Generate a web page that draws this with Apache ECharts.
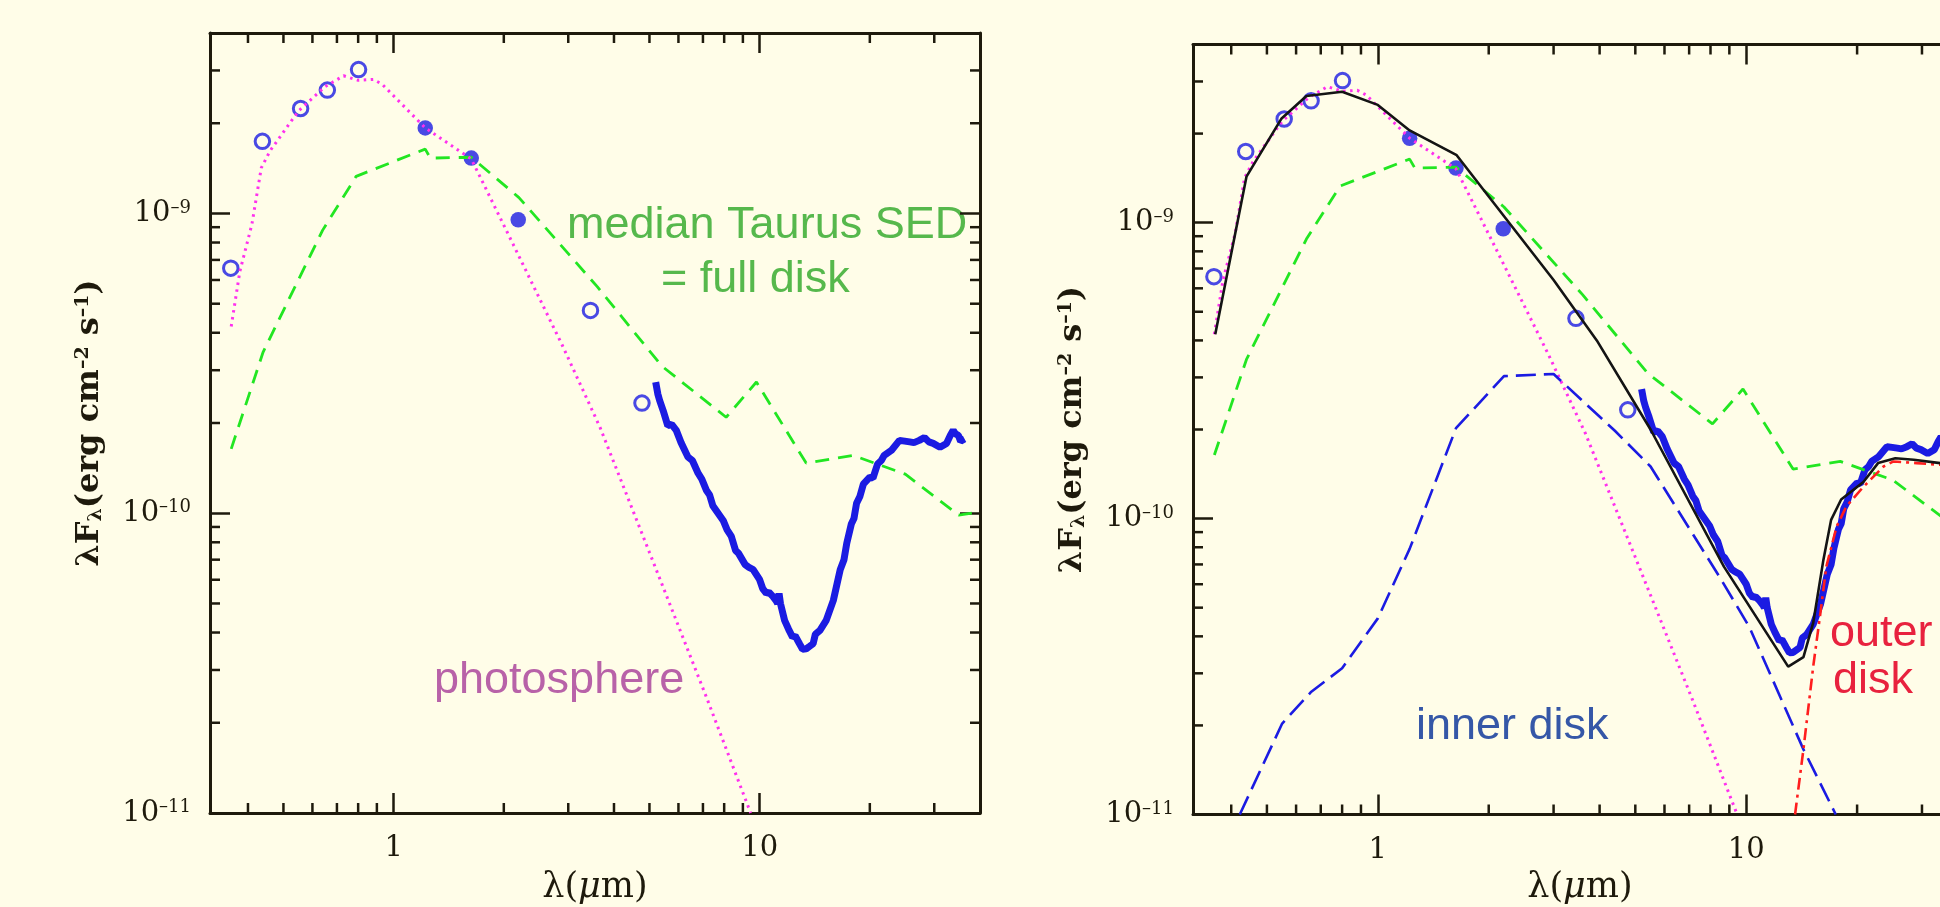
<!DOCTYPE html>
<html>
<head>
<meta charset="utf-8">
<title>SED</title>
<script src="https://cdn.jsdelivr.net/npm/echarts@6/dist/echarts.min.js"></script>
<style>
  html, body { margin: 0; padding: 0; overflow: hidden; background: #fffde8; }
  /* a little larger than the window: the right panel and the bottom margin run off the edge */
  #sed-chart { width: 1970px; height: 950px; }
</style>
</head>
<body>
<div id="sed-chart"></div>
<script>
// wavelength (um), lambda*F_lambda (erg cm^-2 s^-1)
const obsOpen = [[0.359, 6.57e-10], [0.438, 1.74e-9], [0.557, 2.24e-9], [0.659, 2.58e-9], [0.802, 3.02e-9], [3.45, 4.75e-10], [4.77, 2.33e-10]];
const obsFilled = [[1.22, 1.93e-9], [1.63, 1.53e-9], [2.19, 9.53e-10]];

const photosphere = [
  [0.36, 4.2e-10], [0.38, 6.4e-10], [0.41, 9.2e-10], [0.435, 1.42e-9], [0.46, 1.62e-9], [0.55, 2.2e-9],
  [0.65, 2.65e-9], [0.73, 2.88e-9], [0.8, 2.78e-9], [0.88, 2.8e-9], [0.93, 2.7e-9], [1.22, 1.93e-9],
  [1.63, 1.52e-9], [1.87, 1.08e-9], [2.12, 7.9e-10], [2.9, 3.6e-10], [3.66, 1.94e-10], [5.0, 7.4e-11],
  [7.15, 2.44e-11], [9.45, 1.0e-11]
];

const medianTaurus = [
  [0.36, 1.64e-10], [0.44, 3.45e-10], [0.64, 8.8e-10], [0.79, 1.33e-9], [1.22, 1.64e-9], [1.26, 1.53e-9],
  [1.63, 1.54e-9], [2.2, 1.13e-9], [3.6, 5.7e-10], [5.4, 3.1e-10], [8.1, 2.09e-10], [9.8, 2.74e-10],
  [13.4, 1.47e-10], [18, 1.56e-10], [25, 1.35e-10], [35, 9.85e-11], [38, 1.0e-10]
];

const irsSpectrum = [
  [5.2, 2.74e-10], [5.27, 2.5e-10], [5.33, 2.38e-10], [5.45, 2.2e-10], [5.61, 1.96e-10], [5.75, 1.98e-10],
  [5.92, 1.89e-10], [6.1, 1.72e-10], [6.37, 1.54e-10], [6.55, 1.5e-10], [6.79, 1.36e-10], [6.95, 1.3e-10],
  [7.16, 1.19e-10], [7.3, 1.15e-10], [7.45, 1.06e-10], [7.54, 1.07e-10], [7.95, 9.46e-11], [8.15, 8.8e-11],
  [8.37, 8.37e-11], [8.6, 7.5e-11], [8.75, 7.36e-11], [9.13, 6.74e-11], [9.35, 6.6e-11], [9.6, 6.49e-11],
  [10.0, 6.0e-11], [10.2, 5.6e-11], [10.43, 5.41e-11], [10.6, 5.45e-11], [10.88, 5.27e-11], [11.1, 5.1e-11],
  [11.2, 5.0e-11], [11.3, 5.4e-11], [11.4, 5.0e-11], [11.7, 4.39e-11], [12.0, 4.1e-11], [12.3, 3.86e-11],
  [12.5, 3.9e-11], [12.85, 3.67e-11], [13.1, 3.52e-11], [13.4, 3.53e-11], [13.7, 3.6e-11], [14.0, 3.67e-11],
  [14.2, 3.95e-11], [14.6, 4.06e-11], [15.2, 4.39e-11], [15.9, 5.12e-11], [16.6, 6.48e-11], [17.0, 7.0e-11],
  [17.3, 7.94e-11], [17.8, 9.2e-11], [18.1, 9.6e-11], [18.4, 1.08e-10], [18.8, 1.14e-10], [19.2, 1.25e-10],
  [20.0, 1.32e-10], [20.4, 1.31e-10], [21.0, 1.46e-10], [21.5, 1.5e-10], [21.9, 1.56e-10], [22.9, 1.62e-10],
  [24.1, 1.75e-10], [24.9, 1.74e-10], [25.7, 1.73e-10], [26.4, 1.72e-10], [27.3, 1.75e-10], [28.2, 1.79e-10],
  [29.0, 1.73e-10], [29.8, 1.71e-10], [31.1, 1.66e-10], [32.4, 1.71e-10], [33.2, 1.82e-10], [33.8, 1.89e-10],
  [34.3, 1.84e-10], [34.9, 1.82e-10], [35.4, 1.74e-10], [36.3, 1.77e-10]
];

// model components (right panel only)
const modelTotal = [
  [0.362, 4.2e-10], [0.44, 1.43e-9], [0.548, 2.25e-9], [0.64, 2.68e-9], [0.8, 2.77e-9], [1.0, 2.5e-9],
  [1.22, 2.05e-9], [1.637, 1.69e-9], [3.0, 6.4e-10], [3.93, 4.0e-10], [5.5, 2.0e-10], [8.7, 6.88e-11],
  [13.0, 3.16e-11], [14.3, 3.4e-11], [15.2, 4.44e-11], [16.2, 7.25e-11], [17.0, 9.9e-11], [18.1, 1.16e-10],
  [20.8, 1.33e-10], [22.8, 1.54e-10], [25.4, 1.6e-10], [28.5, 1.58e-10], [33.6, 1.54e-10], [40, 1.53e-10]
];
const innerDisk = [
  [0.422, 1.0e-11], [0.55, 2.03e-11], [0.66, 2.6e-11], [0.8, 3.12e-11], [1.0, 4.6e-11], [1.22, 7.9e-11],
  [1.63, 2.02e-10], [2.2, 3.03e-10], [3.0, 3.08e-10], [4.4, 1.98e-10], [5.5, 1.5e-10], [8.5, 6.3e-11],
  [10.2, 4.3e-11], [14.3, 1.66e-11], [17.5, 1.0e-11]
];
const outerDisk = [
  [13.57, 1.0e-11], [14.3, 1.66e-11], [15.2, 3.16e-11], [15.9, 4.79e-11], [16.5, 6.89e-11], [17.6, 9.4e-11],
  [18.7, 1.1e-10], [20.8, 1.28e-10], [23.6, 1.5e-10], [25.1, 1.56e-10], [29.0, 1.54e-10], [33.6, 1.52e-10],
  [40, 1.5e-10]
];

// axis ranges and minor tick values
const xRange = [0.315, 40];
const yRange = [1e-11, 4e-9];
const xMinorTicks = [0.4, 0.5, 0.6, 0.7, 0.8, 0.9, 2, 3, 4, 5, 6, 7, 8, 9, 20, 30];
const yMinorTicks = [
  2e-11, 3e-11, 4e-11, 5e-11, 6e-11, 7e-11, 8e-11, 9e-11,
  2e-10, 3e-10, 4e-10, 5e-10, 6e-10, 7e-10, 8e-10, 9e-10,
  2e-9, 3e-9
];

const axisColor = '#1e1a0c';
const serifName = 'DejaVu Serif';
const serif = '"DejaVu Serif", "Liberation Serif", serif';
const sans = '"Liberation Sans", Arial, sans-serif';
const blue = '#1b1be2';

const chart = echarts.init(document.getElementById('sed-chart'));

function isDecade(v) {
  const e = Math.log10(v);
  return Math.abs(e - Math.round(e)) < 1e-6;
}

function xAxisFor(gridIndex, position, withLabels) {
  return {
    type: 'log',
    logBase: 10,
    gridIndex: gridIndex,
    position: position,
    min: xRange[0],
    max: xRange[1],
    axisLine: { show: true, onZero: false, lineStyle: { color: axisColor, width: 3 } },
    axisTick: { show: true, inside: true, length: 20, lineStyle: { color: axisColor, width: 2.5 } },
    minorTick: { show: false },
    splitLine: { show: false },
    axisLabel: {
      show: withLabels,
      margin: 21,
      color: axisColor,
      fontFamily: serif,
      fontSize: 29,
      formatter: v => (isDecade(v) ? String(Math.round(v)) : '')
    }
  };
}

function yAxisFor(gridIndex, position, withLabels) {
  return {
    type: 'log',
    logBase: 10,
    gridIndex: gridIndex,
    position: position,
    min: yRange[0],
    max: yRange[1],
    axisLine: { show: true, onZero: false, lineStyle: { color: axisColor, width: 3 } },
    axisTick: { show: true, inside: true, length: 20, lineStyle: { color: axisColor, width: 2.5 } },
    minorTick: { show: false },
    splitLine: { show: false },
    axisLabel: {
      show: withLabels,
      margin: 19,
      color: axisColor,
      fontFamily: serif,
      fontSize: 29,
      formatter: v => (isDecade(v) ? '10{s|–' + (-Math.round(Math.log10(v))) + '}' : ''),
      rich: { s: { fontFamily: serif, fontSize: 18, verticalAlign: 'top', color: axisColor } }
    },
    name: withLabels ? 'λF{sub|λ}(erg cm{sup|–2} s{sup|–1})' : '',
    nameLocation: 'middle',
    nameRotate: 90,
    nameGap: 104,
    nameTextStyle: {
      color: axisColor,
      fontFamily: serif,
      fontWeight: 'bold',
      fontSize: 32,
      rich: {
        sub: { fontFamily: serif, fontWeight: 'bold', fontSize: 19, verticalAlign: 'bottom', color: axisColor },
        sup: { fontFamily: serif, fontWeight: 'bold', fontSize: 19, verticalAlign: 'top', color: axisColor }
      }
    }
  };
}

// short inward ticks at 2..9 of every decade, on all four sides of a panel
function minorTickItem(params, api) {
  const kind = api.value(2);
  const len = 10;
  const style = { stroke: axisColor, lineWidth: 2.5 };
  let a, b;
  if (kind === 0) {
    a = api.coord([api.value(0), yRange[0]]);
    b = api.coord([api.value(0), yRange[1]]);
    return {
      type: 'group',
      children: [
        { type: 'line', shape: { x1: a[0], y1: a[1], x2: a[0], y2: a[1] - len }, style: style },
        { type: 'line', shape: { x1: b[0], y1: b[1], x2: b[0], y2: b[1] + len }, style: style }
      ]
    };
  }
  a = api.coord([xRange[0], api.value(1)]);
  b = api.coord([xRange[1], api.value(1)]);
  return {
    type: 'group',
    children: [
      { type: 'line', shape: { x1: a[0], y1: a[1], x2: a[0] + len, y2: a[1] }, style: style },
      { type: 'line', shape: { x1: b[0], y1: b[1], x2: b[0] - len, y2: b[1] }, style: style }
    ]
  };
}

const minorTickData = xMinorTicks.map(v => [v, yRange[0], 0])
  .concat(yMinorTicks.map(v => [xRange[0], v, 1]));

function lineSeries(data, axis, color, width, type, z) {
  return {
    type: 'line',
    data: data,
    xAxisIndex: axis,
    yAxisIndex: axis,
    showSymbol: false,
    smooth: false,
    silent: true,
    z: z,
    lineStyle: { color: color, width: width, type: type }
  };
}

// series shared by both panels
function panelSeries(axis) {
  return [
    {
      type: 'scatter', data: obsOpen, xAxisIndex: axis, yAxisIndex: axis, symbol: 'circle', symbolSize: 14.5, z: 2,
      itemStyle: { color: 'rgba(0,0,0,0)', borderColor: blue, borderWidth: 3 }
    },
    {
      type: 'scatter', data: obsFilled, xAxisIndex: axis, yAxisIndex: axis, symbol: 'circle', symbolSize: 15.5, z: 2,
      itemStyle: { color: blue }
    },
    lineSeries(irsSpectrum, axis, blue, 7, 'solid', 3),
    lineSeries(medianTaurus, axis, '#22e622', 2.8, [14, 9], 4),
    lineSeries(photosphere, axis, '#ff30ee', 3, [2.5, 4.5], 4),
    {
      type: 'custom', data: minorTickData, xAxisIndex: axis, yAxisIndex: axis, silent: true, clip: false, z: 10,
      renderItem: minorTickItem
    }
  ];
}

// x axis title, drawn as text under each panel
function xTitle(cx) {
  return {
    type: 'text', x: cx, y: 888,
    style: {
      text: 'λ({it|μ}m)', fill: axisColor, fontFamily: serifName, fontSize: 35,
      align: 'center', verticalAlign: 'middle',
      rich: { it: { fontFamily: serifName, fontSize: 35, fontStyle: 'italic', fill: axisColor } }
    }
  };
}

const option = {
  backgroundColor: '#fffde8',
  animation: false,
  // fixed panel boxes: do not let the labels push the grids around
  grid: [
    { left: 210, top: 33, width: 770, height: 780, outerBoundsMode: 'none', containLabel: false },
    { left: 1193, top: 44.5, width: 775, height: 770, outerBoundsMode: 'none', containLabel: false }
  ],
  xAxis: [
    xAxisFor(0, 'bottom', true), xAxisFor(0, 'top', false),
    xAxisFor(1, 'bottom', true), xAxisFor(1, 'top', false)
  ],
  yAxis: [
    yAxisFor(0, 'left', true), yAxisFor(0, 'right', false),
    yAxisFor(1, 'left', true), yAxisFor(1, 'right', false)
  ],
  series: panelSeries(0).concat(panelSeries(2), [
    lineSeries(innerDisk, 2, blue, 2.6, [20, 8], 5),
    lineSeries(outerDisk, 2, '#ff1e1e', 2.6, [12, 5, 3, 5], 5),
    lineSeries(modelTotal, 2, '#141414', 2.6, 'solid', 6)
  ]),
  graphic: [
    xTitle(595),
    xTitle(1580),
    { type: 'text', x: 567, y: 226, style: { text: 'median Taurus SED', font: '45px ' + sans, fill: '#56b84c', verticalAlign: 'middle' } },
    { type: 'text', x: 661, y: 280, style: { text: '= full disk', font: '45px ' + sans, fill: '#56b84c', verticalAlign: 'middle' } },
    { type: 'text', x: 434, y: 681, style: { text: 'photosphere', font: '45px ' + sans, fill: '#b862a8', verticalAlign: 'middle' } },
    { type: 'text', x: 1416, y: 727, style: { text: 'inner disk', font: '45px ' + sans, fill: '#3557a7', verticalAlign: 'middle' } },
    { type: 'text', x: 1830, y: 634, style: { text: 'outer', font: '45px ' + sans, fill: '#e8223e', verticalAlign: 'middle' } },
    { type: 'text', x: 1833, y: 681, style: { text: 'disk', font: '45px ' + sans, fill: '#e8223e', verticalAlign: 'middle' } }
  ]
};

// xAxis index 2 / yAxis index 2 belong to the right panel
chart.setOption(option);
</script>
</body>
</html>
